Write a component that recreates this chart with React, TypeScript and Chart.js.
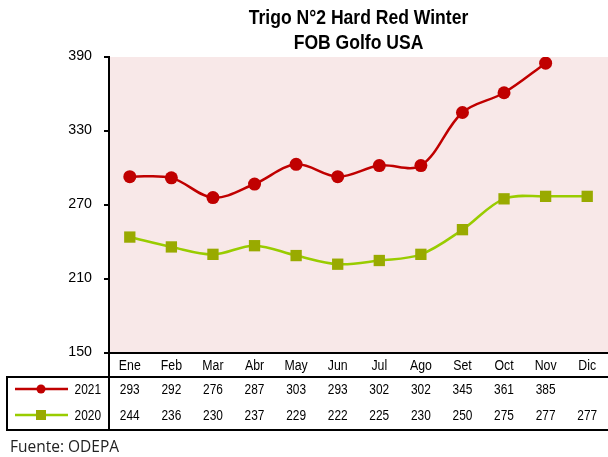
import React, { useEffect, useRef } from "react";
import { Chart, registerables } from "chart.js";

Chart.register(...registerables);

const months = ["Ene", "Feb", "Mar", "Abr", "May", "Jun", "Jul", "Ago", "Set", "Oct", "Nov", "Dic"];
const values2021: (number | null)[] = [293, 292, 276, 287, 303, 293, 302, 302, 345, 361, 385, null];
const values2020: (number | null)[] = [244, 236, 230, 237, 229, 222, 225, 230, 250, 275, 277, 277];
const seriesLabels = ["2021", "2020"];
const titleLines = ["Trigo N°2 Hard Red Winter", "FOB Golfo USA"];
const sourceText = "Fuente: ODEPA";
const yMin = 150;
const yMax = 390;
const yStep = 60;

const RED = "#C00000";
const GREEN_LINE = "#99CC00";
const GREEN_MARK = "#99AA00";
const BG = "#F8E8E8";
const SANS = "'Liberation Sans', Arial, sans-serif";

function narrowText(ctx: any, text: string, x: number, y: number, font: string, sx: number, align: string) {
  ctx.save();
  ctx.font = font;
  ctx.textBaseline = "middle";
  ctx.textAlign = align;
  ctx.translate(x, y);
  ctx.scale(sx, 1);
  ctx.fillText(text, 0, 0);
  ctx.restore();
}

const tablePlugin = {
  id: "tablePlugin",
  beforeDraw(chart: any) {
    const { ctx, chartArea } = chart;
    ctx.save();
    ctx.fillStyle = BG;
    ctx.fillRect(chartArea.left, chartArea.top, chartArea.right - chartArea.left, chartArea.bottom - chartArea.top);
    ctx.restore();
  },
  afterDraw(chart: any) {
    const { ctx, chartArea } = chart;
    const xs = chart.scales.x;
    const ys = chart.scales.y;
    const W = chart.width;
    ctx.save();
    ctx.fillStyle = "#000";
    // title (centred over the visible plot area)
    const cx = (chartArea.left + W) / 2;
    narrowText(ctx, titleLines[0], cx, 19, `bold 19.5px ${SANS}`, 0.9, "center");
    narrowText(ctx, titleLines[1], cx, 43.5, `bold 19.5px ${SANS}`, 0.9, "center");

    // y tick labels
    ys.ticks.forEach((t: any) => {
      narrowText(ctx, String(t.value), 92, ys.getPixelForValue(t.value) - 1.5, `15.5px ${SANS}`, 0.92, "right");
    });
    // month labels
    months.forEach((m, i) => {
      narrowText(ctx, m, xs.getPixelForValue(i), 366, `14px ${SANS}`, 0.88, "center");
    });

    // table lines
    const top = 377;
    const bottom = 430;
    const left = 7;
    ctx.strokeStyle = "#000";
    ctx.lineWidth = 2;
    ctx.beginPath();
    ctx.moveTo(left, top);
    ctx.lineTo(W, top);
    ctx.moveTo(left, bottom);
    ctx.lineTo(W, bottom);
    ctx.moveTo(left, top - 1);
    ctx.lineTo(left, bottom + 1);
    ctx.moveTo(chartArea.left, chartArea.bottom);
    ctx.lineTo(chartArea.left, bottom + 1);
    ctx.stroke();

    const rows = [values2021, values2020];
    const rowY = [390, 416];
    rows.forEach((vals, r) => {
      ctx.fillStyle = "#000";
      vals.forEach((v, i) => {
        if (v === null) return;
        narrowText(ctx, String(v), xs.getPixelForValue(i), rowY[r], `14px ${SANS}`, 0.85, "center");
      });
      narrowText(ctx, seriesLabels[r], 101, rowY[r], `14px ${SANS}`, 0.85, "right");
      // legend sample
      ctx.lineWidth = 2.5;
      ctx.strokeStyle = r === 0 ? RED : GREEN_LINE;
      ctx.beginPath();
      ctx.moveTo(15, rowY[r] - 1);
      ctx.lineTo(68, rowY[r] - 1);
      ctx.stroke();
      if (r === 0) {
        ctx.fillStyle = RED;
        ctx.beginPath();
        ctx.arc(41, rowY[r] - 1, 4.5, 0, Math.PI * 2);
        ctx.fill();
      } else {
        ctx.fillStyle = GREEN_MARK;
        ctx.fillRect(36, rowY[r] - 6, 10, 10);
      }
    });

    ctx.fillStyle = "#222";
    ctx.textAlign = "left";
    ctx.textBaseline = "middle";
    ctx.font = `15.5px 'Open Sans', 'Noto Sans', sans-serif`;
    ctx.fillText(sourceText, 10, 448);
    ctx.restore();
  },
};

export default function App() {
  const ref = useRef<HTMLCanvasElement>(null);
  useEffect(() => {
    document.body.style.margin = "0";
    const chart = new Chart(ref.current!, {
      type: "line",
      data: {
        labels: months,
        datasets: [
          {
            label: seriesLabels[0],
            data: values2021,
            borderColor: RED,
            backgroundColor: RED,
            borderWidth: 2.5,
            pointStyle: "circle",
            pointRadius: 6.5,
            pointBorderWidth: 0,
            pointBackgroundColor: RED,
            tension: 0.35,
          },
          {
            label: seriesLabels[1],
            data: values2020,
            borderColor: GREEN_LINE,
            backgroundColor: GREEN_MARK,
            borderWidth: 2.5,
            pointStyle: "rect",
            pointRadius: 8,
            pointBorderWidth: 0,
            pointBackgroundColor: GREEN_MARK,
            tension: 0.35,
          },
        ],
      },
      options: {
        animation: false,
        responsive: false,
        devicePixelRatio: 1,
        layout: { autoPadding: false, padding: { top: 57, left: 0, right: -5, bottom: 0 } },
        plugins: { legend: { display: false }, title: { display: false }, tooltip: { enabled: false } },
        scales: {
          x: {
            offset: true,
            grid: { display: false },
            border: { display: true, color: "#000", width: 2 },
            ticks: { display: false, autoSkip: false },
            afterFit: (s: any) => { s.height = 104; },
          },
          y: {
            min: yMin,
            max: yMax,
            grid: { drawOnChartArea: false, drawTicks: true, tickLength: 5, color: "#000", lineWidth: 2 },
            border: { display: true, color: "#000", width: 2 },
            ticks: { stepSize: yStep, display: false },
            afterFit: (s: any) => { s.width = 109; },
          },
        },
      },
      plugins: [tablePlugin],
    });
    return () => chart.destroy();
  }, []);
  return (
    <div style={{ position: "absolute", left: 0, top: 0, width: 608, height: 457 }}>
      <canvas ref={ref} width={608} height={457} style={{ width: 608, height: 457 }} />
    </div>
  );
}
